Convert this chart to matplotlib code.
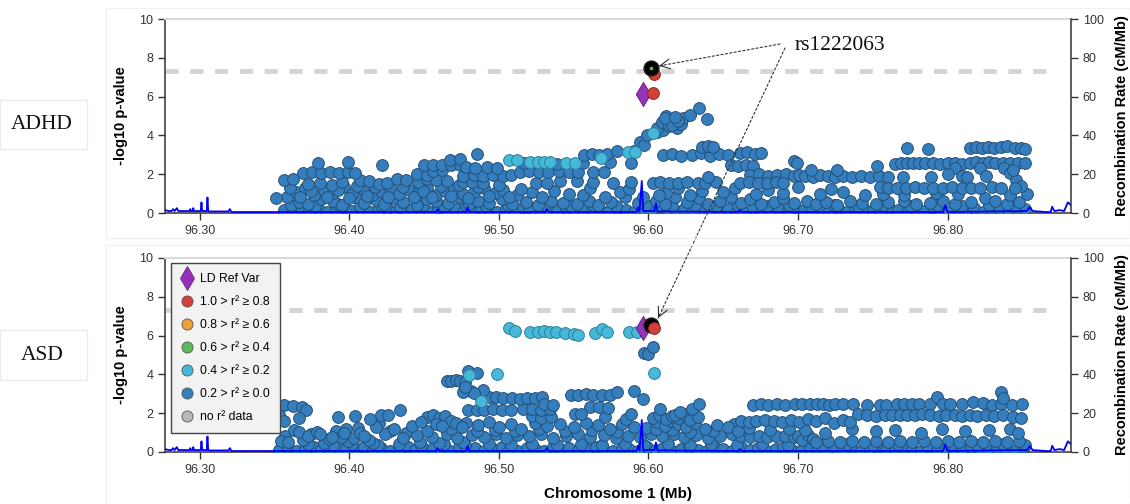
import numpy as np
import matplotlib
matplotlib.use('Agg')
import matplotlib.pyplot as plt
from matplotlib.lines import Line2D
from matplotlib.patches import Rectangle

plt.rcParams['font.family'] = ['Liberation Sans', 'DejaVu Sans']

# LD colour classes
c_ref = '#9632b8'
c_red = '#d43f3a'
c_orange = '#eea236'
c_green = '#5cb85c'
c_cyan = '#46b8da'
c_blue = '#357ebd'
c_gray = '#b8b8b8'

xticks = [96.30, 96.40, 96.50, 96.60, 96.70, 96.80]
xlim = (96.2766, 96.8826)
sig_line = 7.3

legend_labels = ['LD Ref Var', '1.0 > r\u00b2 \u2265 0.8', '0.8 > r\u00b2 \u2265 0.6',
                 '0.6 > r\u00b2 \u2265 0.4', '0.4 > r\u00b2 \u2265 0.2',
                 '0.2 > r\u00b2 \u2265 0.0', 'no r\u00b2 data']

snp_name = 'rs1222063'

# ---------------- ADHD ----------------
adhd_lead = (96.602, 7.50)
adhd_ref = (96.596, 6.13)
adhd_red = [(96.604, 7.17), (96.603, 6.19)]
adhd_cyan = [(96.507, 2.75), (96.512, 2.75), (96.521, 2.65), (96.526, 2.65), (96.530, 2.65),
             (96.534, 2.65), (96.545, 2.60), (96.551, 2.60), (96.568, 2.85), (96.586, 3.15),
             (96.591, 3.15), (96.603, 4.10)]
adhd_blue = [
    # bottom row
    (96.356, 0.15), (96.362, 0.05), (96.368, 0.20), (96.373, 0.10), (96.379, 0.25), (96.385, 0.05),
    (96.391, 0.15), (96.396, 0.30), (96.402, 0.10), (96.408, 0.20), (96.414, 0.05), (96.419, 0.15),
    (96.425, 0.25), (96.431, 0.10), (96.437, 0.05), (96.442, 0.20), (96.448, 0.15), (96.454, 0.05),
    (96.459, 0.30), (96.465, 0.10), (96.471, 0.20), (96.476, 0.05), (96.482, 0.15), (96.488, 0.25),
    (96.494, 0.10), (96.499, 0.05), (96.505, 0.20), (96.511, 0.10), (96.516, 0.30), (96.522, 0.15),
    (96.528, 0.05), (96.533, 0.20), (96.539, 0.10), (96.545, 0.25), (96.551, 0.05), (96.556, 0.15),
    (96.562, 0.20), (96.568, 0.10), (96.573, 0.05), (96.579, 0.25), (96.585, 0.15), (96.590, 0.05),
    (96.596, 0.20), (96.602, 0.10), (96.607, 0.30), (96.613, 0.15), (96.619, 0.05), (96.624, 0.20),
    (96.630, 0.10), (96.636, 0.25), (96.641, 0.05), (96.647, 0.15), (96.653, 0.20), (96.659, 0.10),
    (96.664, 0.05), (96.670, 0.25), (96.676, 0.15), (96.681, 0.05), (96.687, 0.20), (96.693, 0.10),
    (96.698, 0.30), (96.704, 0.15), (96.710, 0.05), (96.716, 0.20), (96.721, 0.10), (96.727, 0.25),
    (96.733, 0.05), (96.738, 0.15), (96.744, 0.20), (96.750, 0.10), (96.755, 0.05), (96.761, 0.25),
    (96.767, 0.15), (96.773, 0.05), (96.778, 0.20), (96.784, 0.10), (96.790, 0.30), (96.795, 0.15),
    (96.801, 0.05), (96.807, 0.20), (96.812, 0.10), (96.818, 0.25), (96.824, 0.05), (96.830, 0.15),
    (96.835, 0.20), (96.841, 0.10), (96.847, 0.05), (96.852, 0.20),
    # 0.3 - 0.45
    (96.361, 0.40), (96.377, 0.35), (96.392, 0.45), (96.407, 0.35), (96.421, 0.40), (96.434, 0.30),
    (96.449, 0.40), (96.463, 0.35), (96.478, 0.40), (96.491, 0.35), (96.506, 0.40), (96.520, 0.30),
    (96.531, 0.40), (96.548, 0.35), (96.563, 0.40), (96.578, 0.35), (96.598, 0.40), (96.616, 0.35),
    (96.631, 0.40), (96.645, 0.35), (96.660, 0.40), (96.679, 0.35), (96.694, 0.40), (96.709, 0.35),
    (96.724, 0.40), (96.740, 0.35), (96.757, 0.40), (96.775, 0.35), (96.793, 0.40), (96.810, 0.35),
    (96.828, 0.40), (96.845, 0.35),
    # 0.4 - 0.9
    (96.358, 0.80), (96.366, 0.55), (96.372, 0.45), (96.381, 0.70), (96.389, 0.60), (96.395, 0.40),
    (96.404, 0.85), (96.410, 0.50), (96.418, 0.65), (96.423, 0.45), (96.430, 0.75), (96.436, 0.55),
    (96.445, 0.40), (96.452, 0.70), (96.458, 0.60), (96.466, 0.50), (96.473, 0.80), (96.480, 0.45),
    (96.486, 0.60), (96.493, 0.50), (96.502, 0.70), (96.509, 0.45), (96.518, 0.55), (96.526, 0.40),
    (96.535, 0.60), (96.543, 0.50), (96.552, 0.45), (96.560, 0.60), (96.566, 0.40), (96.575, 0.55),
    (96.584, 0.80), (96.593, 0.50), (96.605, 0.60), (96.611, 0.45), (96.618, 0.80), (96.626, 0.55),
    (96.634, 0.75), (96.640, 0.45), (96.648, 0.60), (96.655, 0.80), (96.662, 0.50), (96.668, 0.70),
    (96.675, 0.45), (96.684, 0.55), (96.690, 0.75), (96.697, 0.50), (96.706, 0.60), (96.712, 0.45),
    (96.719, 0.55), (96.726, 0.40), (96.735, 0.60), (96.743, 0.50), (96.752, 0.45), (96.760, 0.55),
    (96.771, 0.60), (96.779, 0.45), (96.788, 0.50), (96.797, 0.60), (96.805, 0.45), (96.816, 0.55),
    (96.825, 0.75), (96.832, 0.60), (96.840, 0.45), (96.848, 0.55),
    # around 1.0
    (96.351, 0.75), (96.364, 1.10), (96.370, 1.30), (96.376, 0.95), (96.383, 1.20), (96.389, 1.05),
    (96.396, 1.35), (96.402, 1.00), (96.409, 1.25), (96.415, 0.95), (96.421, 1.15), (96.427, 1.30),
    (96.433, 1.00), (96.440, 1.20), (96.446, 1.05), (96.452, 1.30), (96.458, 0.95), (96.464, 1.15),
    (96.470, 1.25), (96.476, 1.00), (96.483, 1.10), (96.490, 1.30), (96.497, 1.05), (96.503, 1.20),
    (96.512, 0.95), (96.522, 1.10), (96.547, 1.00), (96.581, 1.10), (96.612, 1.05), (96.628, 0.95),
    (96.650, 1.10), (96.672, 1.00), (96.690, 1.05), (96.715, 1.00), (96.730, 1.10), (96.745, 0.95),
    (96.757, 1.00), (96.771, 0.95), (96.792, 1.05), (96.807, 1.00), (96.842, 0.95), (96.853, 1.00),
    (96.360, 1.30), (96.367, 0.85), (96.374, 1.15), (96.385, 0.85), (96.392, 1.20), (96.400, 0.75),
    (96.405, 1.40), (96.412, 0.90), (96.417, 1.35), (96.426, 0.85), (96.436, 1.35), (96.443, 0.80),
    (96.449, 1.15), (96.455, 0.85), (96.461, 1.40), (96.468, 0.90), (96.473, 1.45), (96.479, 0.75),
    (96.486, 1.35), (96.493, 0.90), (96.500, 1.45), (96.507, 0.85), (96.515, 1.25), (96.529, 0.85),
    (96.537, 1.15), (96.556, 0.95), (96.561, 1.30), (96.571, 0.85), (96.587, 1.25), (96.596, 0.80),
    (96.607, 0.95), (96.620, 1.30), (96.636, 1.15), (96.658, 1.30), (96.680, 1.20), (96.700, 1.35),
    (96.722, 1.25),
    # 1.5 - 1.8
    (96.356, 1.70), (96.362, 1.75), (96.372, 1.50), (96.380, 1.55), (96.388, 1.45), (96.395, 1.60),
    (96.407, 1.70), (96.413, 1.65), (96.420, 1.50), (96.425, 1.55), (96.432, 1.75), (96.438, 1.70),
    (96.446, 1.60), (96.452, 1.75), (96.458, 1.70), (96.465, 1.65), (96.476, 1.60), (96.482, 1.60),
    (96.489, 1.55), (96.525, 1.55), (96.532, 1.55), (96.541, 1.65), (96.552, 1.65), (96.563, 1.60),
    (96.576, 1.55), (96.588, 1.60),
    # around 2.0
    (96.369, 2.05), (96.375, 2.10), (96.381, 2.05), (96.387, 2.10), (96.393, 2.05), (96.399, 2.10),
    (96.404, 2.05), (96.445, 2.00), (96.452, 1.95), (96.456, 2.15), (96.462, 2.20), (96.476, 1.90),
    (96.483, 1.95), (96.489, 1.90), (96.496, 1.95), (96.503, 1.90), (96.508, 1.95), (96.514, 2.10),
    (96.520, 2.15), (96.527, 2.10), (96.533, 2.10), (96.540, 2.15), (96.547, 2.10), (96.553, 2.10),
    (96.563, 2.10), (96.570, 2.10),
    # 2.3 - 3.2, left half
    (96.379, 2.60), (96.399, 2.65), (96.422, 2.50), (96.450, 2.45), (96.456, 2.50), (96.462, 2.45),
    (96.468, 2.50), (96.474, 2.45), (96.467, 2.75), (96.474, 2.80), (96.478, 2.35), (96.484, 2.30),
    (96.492, 2.35), (96.499, 2.30), (96.485, 3.05), (96.517, 2.60), (96.539, 2.55), (96.556, 2.60),
    (96.574, 2.65), (96.588, 2.60), (96.557, 3.00), (96.562, 3.05), (96.567, 3.00), (96.572, 3.05),
    (96.579, 3.20),
    # rise towards the top hit
    (96.590, 3.20), (96.594, 3.65), (96.597, 3.50), (96.599, 4.00), (96.606, 4.20), (96.610, 4.30),
    (96.606, 4.40), (96.609, 4.70), (96.612, 5.00), (96.614, 4.50), (96.617, 4.80), (96.619, 4.40),
    (96.622, 4.60), (96.623, 4.90), (96.616, 4.55), (96.620, 4.75), (96.611, 4.90), (96.618, 4.95),
    (96.628, 5.05), (96.634, 5.40), (96.639, 4.85),
    # 96.60 - 96.70 bands
    (96.610, 3.00), (96.616, 3.05), (96.622, 2.95), (96.629, 3.00), (96.635, 3.10), (96.641, 2.95),
    (96.647, 3.05), (96.653, 3.00), (96.636, 3.40), (96.640, 3.45), (96.643, 3.40), (96.661, 3.10),
    (96.666, 3.15), (96.671, 3.05), (96.675, 3.10), (96.655, 2.45), (96.660, 2.40), (96.665, 2.50),
    (96.670, 2.40), (96.668, 1.95), (96.674, 2.00), (96.680, 1.90), (96.686, 1.95), (96.692, 2.00),
    (96.697, 1.90), (96.701, 1.95), (96.705, 1.90), (96.710, 1.85), (96.715, 1.95), (96.720, 1.90),
    (96.725, 1.85), (96.730, 1.90), (96.736, 1.85), (96.742, 1.90), (96.748, 1.85), (96.754, 1.90),
    (96.760, 1.85), (96.603, 1.55), (96.608, 1.60), (96.614, 1.55), (96.620, 1.55), (96.626, 1.60),
    (96.633, 1.55), (96.638, 1.55), (96.645, 1.60), (96.661, 1.55), (96.667, 1.60), (96.673, 1.55),
    (96.679, 1.55), (96.685, 1.60), (96.690, 1.55), (96.697, 2.70), (96.640, 1.85), (96.699, 2.60),
    (96.709, 2.20), (96.726, 2.20), (96.753, 2.40),
    # right block
    (96.773, 3.35), (96.787, 3.30), (96.815, 3.35), (96.819, 3.40), (96.823, 3.35), (96.827, 3.40),
    (96.831, 3.35), (96.836, 3.40), (96.840, 3.45), (96.845, 3.35), (96.849, 3.35), (96.852, 3.30),
    (96.765, 2.55), (96.769, 2.60), (96.773, 2.60), (96.777, 2.60), (96.781, 2.60), (96.785, 2.60),
    (96.790, 2.60), (96.795, 2.55), (96.800, 2.60), (96.805, 2.60), (96.810, 2.55), (96.815, 2.60),
    (96.819, 2.65), (96.824, 2.60), (96.828, 2.65), (96.832, 2.60), (96.837, 2.60), (96.842, 2.60),
    (96.847, 2.60), (96.852, 2.60), (96.838, 2.30), (96.842, 2.05), (96.846, 1.70), (96.849, 1.40),
    (96.844, 2.20), (96.805, 2.30), (96.822, 2.30), (96.770, 1.85), (96.789, 1.85), (96.800, 2.00),
    (96.810, 1.90), (96.813, 1.85), (96.826, 1.90), (96.755, 1.35), (96.760, 1.30), (96.766, 1.30),
    (96.772, 1.30), (96.778, 1.35), (96.784, 1.30), (96.790, 1.30), (96.797, 1.30), (96.803, 1.35),
    (96.810, 1.30), (96.816, 1.30), (96.822, 1.30), (96.830, 1.35), (96.836, 1.30), (96.845, 1.30),
]

# ---------------- ASD ----------------
asd_lead = (96.602, 6.55)
asd_ref = (96.596, 6.40)
asd_red = [(96.604, 6.40)]
asd_cyan = [(96.507, 6.40), (96.511, 6.25), (96.521, 6.20), (96.526, 6.20), (96.530, 6.25),
            (96.534, 6.20), (96.538, 6.20), (96.544, 6.15), (96.550, 6.10), (96.553, 6.05),
            (96.564, 6.15), (96.569, 6.35), (96.572, 6.20), (96.587, 6.20), (96.592, 6.20),
            (96.604, 4.05), (96.499, 4.00), (96.480, 3.95), (96.488, 2.65)]
asd_blue = [
    # bottom row
    (96.353, 0.10), (96.359, 0.20), (96.364, 0.05), (96.370, 0.15), (96.376, 0.25), (96.381, 0.10),
    (96.387, 0.05), (96.393, 0.20), (96.398, 0.15), (96.404, 0.05), (96.410, 0.25), (96.416, 0.10),
    (96.421, 0.20), (96.427, 0.05), (96.433, 0.15), (96.439, 0.25), (96.444, 0.10), (96.450, 0.05),
    (96.456, 0.20), (96.461, 0.15), (96.467, 0.05), (96.473, 0.25), (96.479, 0.10), (96.484, 0.20),
    (96.490, 0.05), (96.496, 0.15), (96.502, 0.25), (96.507, 0.10), (96.513, 0.05), (96.519, 0.20),
    (96.524, 0.15), (96.530, 0.05), (96.536, 0.25), (96.542, 0.10), (96.547, 0.20), (96.553, 0.05),
    (96.559, 0.15), (96.565, 0.25), (96.570, 0.10), (96.576, 0.05), (96.582, 0.20), (96.587, 0.15),
    (96.593, 0.05), (96.599, 0.25), (96.605, 0.10), (96.610, 0.20), (96.616, 0.05), (96.622, 0.15),
    (96.627, 0.25), (96.633, 0.10), (96.639, 0.05), (96.645, 0.20), (96.650, 0.15), (96.656, 0.05),
    (96.662, 0.25), (96.668, 0.10), (96.673, 0.20), (96.679, 0.05), (96.685, 0.15), (96.690, 0.25),
    (96.696, 0.10), (96.702, 0.05), (96.708, 0.20), (96.713, 0.15), (96.719, 0.05), (96.725, 0.25),
    (96.730, 0.10), (96.736, 0.20), (96.742, 0.05), (96.748, 0.15), (96.753, 0.25), (96.759, 0.10),
    (96.765, 0.05), (96.770, 0.20), (96.776, 0.15), (96.782, 0.05), (96.788, 0.25), (96.793, 0.10),
    (96.799, 0.20), (96.805, 0.05), (96.810, 0.15), (96.816, 0.25), (96.822, 0.10), (96.828, 0.05),
    (96.833, 0.20), (96.839, 0.15), (96.845, 0.05), (96.851, 0.25),
    (96.358, 0.35), (96.372, 0.40), (96.389, 0.35), (96.402, 0.40), (96.419, 0.35), (96.433, 0.40),
    (96.448, 0.35), (96.463, 0.40), (96.477, 0.35), (96.493, 0.40), (96.508, 0.35), (96.522, 0.40),
    (96.539, 0.35), (96.555, 0.40), (96.569, 0.35), (96.584, 0.40), (96.597, 0.35), (96.613, 0.40),
    (96.628, 0.35), (96.642, 0.40), (96.659, 0.35), (96.676, 0.40), (96.693, 0.35), (96.716, 0.35),
    (96.733, 0.40), (96.750, 0.35), (96.767, 0.40), (96.786, 0.35), (96.803, 0.40), (96.820, 0.35),
    (96.837, 0.40), (96.852, 0.35),
    # 0.3 - 1.2
    (96.357, 0.85), (96.363, 1.15), (96.369, 0.60), (96.374, 0.95), (96.383, 0.45), (96.391, 1.10),
    (96.399, 0.55), (96.406, 1.25), (96.416, 0.45), (96.427, 1.10), (96.438, 1.00), (96.447, 0.50),
    (96.460, 0.45), (96.476, 0.50), (96.354, 0.55), (96.359, 0.50), (96.366, 1.05), (96.372, 0.80),
    (96.378, 1.05), (96.386, 0.65), (96.394, 0.75), (96.398, 1.20), (96.403, 0.70), (96.407, 1.00),
    (96.413, 0.60), (96.380, 0.95), (96.388, 0.75), (96.396, 1.00), (96.410, 0.85), (96.424, 0.95),
    (96.436, 0.70), (96.445, 0.90), (96.455, 0.75), (96.465, 0.95), (96.472, 0.70), (96.482, 0.90),
    (96.490, 0.75), (96.498, 0.95), (96.505, 0.70), (96.512, 0.90), (96.520, 0.80), (96.528, 0.95),
    (96.536, 0.70), (96.545, 0.85), (96.553, 0.95), (96.561, 0.75), (96.570, 0.90), (96.578, 0.70),
    (96.586, 0.85), (96.594, 0.75), (96.602, 0.95), (96.609, 0.80), (96.617, 0.95), (96.624, 0.75),
    (96.632, 0.90), (96.640, 0.70), (96.648, 0.85), (96.656, 0.95), (96.662, 0.80), (96.668, 0.75),
    (96.674, 0.80), (96.679, 0.75), (96.685, 0.80), (96.691, 0.80), (96.697, 0.75), (96.705, 0.70),
    (96.700, 0.85), (96.703, 0.60), (96.707, 0.90), (96.710, 0.65), (96.712, 0.50), (96.720, 0.55),
    (96.728, 0.50), (96.736, 0.55), (96.744, 0.50), (96.752, 0.55), (96.760, 0.50), (96.768, 0.55),
    (96.776, 0.50), (96.784, 0.55), (96.792, 0.50), (96.800, 0.55), (96.808, 0.50), (96.816, 0.55),
    (96.824, 0.50), (96.832, 0.55), (96.840, 0.50), (96.848, 0.55), (96.705, 1.15), (96.718, 1.00),
    (96.736, 1.20), (96.752, 1.10), (96.765, 1.15), (96.782, 1.00), (96.796, 1.20), (96.812, 1.10),
    (96.828, 1.15), (96.842, 1.20), (96.847, 1.00),
    (96.452, 1.10), (96.468, 1.20), (96.485, 1.10), (96.497, 1.15), (96.511, 1.10), (96.527, 1.20),
    (96.544, 1.10), (96.562, 1.15), (96.579, 1.05), (96.598, 1.25), (96.605, 1.20), (96.616, 1.15),
    (96.628, 1.05), (96.643, 1.10), (96.657, 1.45), (96.667, 1.25), (96.681, 1.15), (96.694, 1.20),
    # 1.2 - 2.0
    (96.420, 1.50), (96.418, 1.30), (96.430, 1.20), (96.442, 1.35), (96.478, 1.50), (96.486, 1.40),
    (96.493, 1.55), (96.500, 1.30), (96.508, 1.45), (96.515, 1.20), (96.524, 1.50), (96.532, 1.35),
    (96.541, 1.45), (96.550, 1.30), (96.558, 1.50), (96.566, 1.40), (96.574, 1.20), (96.582, 1.45),
    (96.590, 1.30), (96.606, 1.55), (96.611, 1.35), (96.615, 1.60), (96.620, 1.45), (96.625, 1.30),
    (96.631, 1.50), (96.638, 1.20), (96.646, 1.40), (96.653, 1.30), (96.660, 1.10), (96.603, 1.75),
    (96.607, 1.90), (96.612, 1.70), (96.616, 1.85), (96.620, 1.75), (96.624, 1.95), (96.628, 1.65),
    (96.633, 1.80), (96.522, 1.85), (96.528, 1.75), (96.535, 1.80), (96.571, 1.80), (96.585, 1.70),
    (96.452, 1.80), (96.456, 1.90), (96.460, 1.75), (96.464, 1.85), (96.468, 1.60), (96.471, 1.50),
    (96.458, 1.45), (96.462, 1.35), (96.475, 1.30), (96.448, 1.55), (96.662, 1.60), (96.667, 1.55),
    (96.672, 1.60), (96.678, 1.65), (96.684, 1.60), (96.689, 1.55), (96.695, 1.65), (96.701, 1.55),
    (96.707, 1.70), (96.712, 1.60), (96.718, 1.75), (96.724, 1.50), (96.730, 1.65), (96.735, 1.55),
    # left edge, up to 2.4
    (96.356, 2.40), (96.362, 2.35), (96.368, 2.30), (96.371, 2.15), (96.353, 1.90), (96.356, 1.60),
    (96.366, 1.75), (96.392, 1.80), (96.404, 1.85), (96.414, 1.70), (96.421, 1.90), (96.426, 1.90),
    (96.434, 2.15),
    # 2.0 - 3.2 middle
    (96.479, 2.15), (96.485, 2.15), (96.490, 2.15), (96.496, 2.20), (96.502, 2.15), (96.508, 2.15),
    (96.516, 2.20), (96.522, 2.20), (96.528, 2.15), (96.534, 2.20), (96.561, 2.30), (96.567, 2.30),
    (96.573, 2.25), (96.551, 1.95), (96.555, 1.95), (96.588, 1.95), (96.608, 2.20), (96.618, 1.90),
    (96.621, 2.05), (96.629, 2.20), (96.634, 2.45), (96.493, 2.85), (96.498, 2.85), (96.503, 2.80),
    (96.509, 2.80), (96.514, 2.75), (96.519, 2.80), (96.524, 2.80), (96.529, 2.85), (96.530, 2.45),
    (96.536, 2.40), (96.548, 2.95), (96.553, 2.95), (96.558, 3.00), (96.563, 2.95), (96.569, 2.95),
    (96.574, 2.95), (96.579, 3.10), (96.590, 3.15), (96.596, 2.75),
    # shoulder near 96.47
    (96.465, 3.65), (96.468, 3.65), (96.471, 3.70), (96.474, 3.65), (96.477, 3.60), (96.479, 4.15),
    (96.485, 4.05), (96.481, 3.15), (96.489, 3.20), (96.476, 3.10), (96.483, 3.05), (96.477, 3.35),
    # near the top hit
    (96.597, 5.10), (96.600, 5.05), (96.603, 5.40),
    # right side
    (96.670, 2.40), (96.675, 2.45), (96.680, 2.40), (96.686, 2.45), (96.691, 2.40), (96.698, 2.45),
    (96.703, 2.50), (96.708, 2.45), (96.713, 2.50), (96.717, 2.45), (96.721, 2.40), (96.725, 2.45),
    (96.730, 2.45), (96.737, 2.45), (96.746, 2.40), (96.755, 2.40), (96.759, 2.40), (96.766, 2.50),
    (96.771, 2.50), (96.776, 2.50), (96.781, 2.50), (96.788, 2.50), (96.793, 2.85), (96.797, 2.50),
    (96.802, 2.50), (96.810, 2.50), (96.817, 2.60), (96.824, 2.55), (96.830, 2.40), (96.836, 2.45),
    (96.836, 3.10), (96.837, 2.80), (96.843, 2.40), (96.850, 2.50), (96.740, 1.95), (96.746, 1.90),
    (96.752, 1.85), (96.758, 1.90), (96.763, 1.90), (96.768, 1.90), (96.773, 1.90), (96.778, 1.90),
    (96.783, 1.95), (96.788, 1.90), (96.794, 1.85), (96.799, 1.90), (96.805, 1.90), (96.810, 1.85),
    (96.815, 1.90), (96.820, 1.85), (96.826, 1.90), (96.831, 1.85), (96.837, 1.90), (96.844, 1.80),
    (96.849, 1.75),
]

# recombination rate (cM/Mb), shared by both panels
recomb_pos = [96.2766, 96.279, 96.281, 96.282, 96.283, 96.2845, 96.2855, 96.288, 96.293, 96.2935,
              96.294, 96.295, 96.2955, 96.296, 96.3005, 96.301, 96.3015, 96.302, 96.3045, 96.305,
              96.3055, 96.306, 96.319, 96.320, 96.321, 96.340, 96.400, 96.458, 96.459, 96.460,
              96.478, 96.479, 96.480, 96.531, 96.532, 96.533, 96.592, 96.593, 96.594, 96.5955,
              96.5965, 96.598, 96.604, 96.605, 96.606, 96.660, 96.661, 96.662, 96.797, 96.7985,
              96.800, 96.853, 96.855, 96.857, 96.866, 96.869, 96.870, 96.8715, 96.875, 96.878,
              96.8805, 96.8826]
recomb_rate = [1.5, 1.0, 1.0, 2.0, 1.0, 2.5, 1.0, 1.0, 1.0, 2.0,
               1.0, 1.0, 2.5, 1.0, 1.0, 5.5, 1.0, 1.0, 1.0, 8.0,
               1.0, 0.8, 0.8, 2.0, 0.5, 0.5, 0.5, 0.5, 2.0, 0.5,
               0.5, 3.0, 0.5, 0.5, 2.0, 0.5, 0.5, 3.0, 0.8, 16.5,
               1.0, 1.0, 1.0, 5.0, 0.8, 0.5, 1.5, 0.5, 0.5, 4.0,
               0.5, 1.0, 3.0, 1.0, 0.5, 0.5, 3.2, 1.0, 1.5, 1.0,
               5.5, 4.0]

W, H = 1130, 504
fig = plt.figure(figsize=(W / 100, H / 100), dpi=100)


def fx(px):
    return px / W


def fy(py):
    return 1 - py / H


def panel(ax, blue, cyan, red, ref, lead, red_on_top):
    ax.set_xlim(*xlim)
    ax.set_ylim(0, 10)
    ax.axhline(sig_line, xmin=0, xmax=0.985, color='#d4d4d4', lw=3.5,
               dashes=(2.7, 2.4), zorder=1)
    bx, by = zip(*blue)
    ax.scatter(bx, by, s=72, c=c_blue, edgecolors='#244f76', linewidths=0.7, zorder=3)
    cx, cy = zip(*cyan)
    ax.scatter(cx, cy, s=72, c=c_cyan, edgecolors='#2f7f99', linewidths=0.7, zorder=4)
    ax.scatter([ref[0]], [ref[1]], s=150, marker='d', c=c_ref, edgecolors='#6a1f85',
               linewidths=0.7, zorder=5)
    rx, ry = zip(*red)
    ax.scatter([lead[0]], [lead[1]], s=115, c='black', edgecolors='#222222', zorder=6)
    ax.scatter([lead[0]], [lead[1]], s=7, c=c_green, linewidths=0, zorder=6)
    ax.scatter(rx, ry, s=72, c=c_red, edgecolors='#8e2522', linewidths=0.7,
               zorder=7 if red_on_top else 5)

    ax.set_xticks(xticks)
    ax.set_xticklabels(['%.2f' % t for t in xticks])
    ax.set_yticks(range(0, 11, 2))
    ax.tick_params(direction='out', length=5, width=1, colors='#333333',
                   labelsize=9, labelcolor='#333333')
    ax.set_ylabel('-log10 p-value', fontsize=10.5, fontweight='bold', labelpad=8)
    for side in ['left', 'bottom']:
        ax.spines[side].set_color('#333333')
        ax.spines[side].set_linewidth(1.1)
    ax.spines['top'].set_color('#d9d9d9')
    ax.spines['top'].set_linewidth(1.5)
    ax.spines['right'].set_visible(False)

    ar = ax.twinx()
    ar.set_ylim(0, 100)
    ar.set_yticks(range(0, 101, 20))
    ar.plot(recomb_pos, recomb_rate, color='#0000ff', lw=1.3, zorder=2)
    ar.tick_params(direction='out', length=5, width=1, colors='#333333',
                   labelsize=9, labelcolor='#333333')
    ar.set_ylabel('Recombination Rate (cM/Mb)', fontsize=10.5, fontweight='bold', labelpad=8)
    for side in ['left', 'bottom', 'top']:
        ar.spines[side].set_visible(False)
    ar.spines['right'].set_color('#333333')
    ar.spines['right'].set_linewidth(1.1)
    return ar


ax1 = fig.add_axes([fx(165), fy(213), fx(1071 - 165), 194 / H])
ax2 = fig.add_axes([fx(165), fy(452), fx(1071 - 165), 194 / H])
ar1 = panel(ax1, adhd_blue, adhd_cyan, adhd_red, adhd_ref, adhd_lead, False)
ar2 = panel(ax2, asd_blue, asd_cyan, asd_red, asd_ref, asd_lead, True)
ax2.set_xlabel('Chromosome 1 (Mb)', fontsize=11, fontweight='bold', labelpad=8)

# faint frames around each panel and the trait labels
for (x0, y0, x1, y1) in [(106, 8, 1130, 238), (106, 245, 1130, 504)]:
    fig.patches.append(Rectangle((fx(x0), fy(y1)), fx(x1 - x0), (y1 - y0) / H,
                                 transform=fig.transFigure, fill=False,
                                 edgecolor='#f0f0f0', lw=1))
for name, (y0, y1) in [('ADHD', (100, 149)), ('ASD', (330, 380))]:
    fig.patches.append(Rectangle((fx(0), fy(y1)), fx(87), (y1 - y0) / H,
                                 transform=fig.transFigure, fill=False,
                                 edgecolor='#ececec', lw=1))
    fig.text(fx(42), fy((y0 + y1) / 2), name, family='Liberation Serif', fontsize=15.5,
             ha='center', va='center', color='#111111')

# legend
handles = [Line2D([], [], ls='', marker='d', markersize=12, markerfacecolor=c_ref,
                  markeredgecolor='#6a1f85', markeredgewidth=0.6)]
for col in [c_red, c_orange, c_green, c_cyan, c_blue, c_gray]:
    handles.append(Line2D([], [], ls='', marker='o', markersize=8, markerfacecolor=col,
                          markeredgecolor='#555555', markeredgewidth=0.6))
leg = ar2.legend(handles, legend_labels, loc='upper left', bbox_to_anchor=(0.0066, 0.974),
                 borderaxespad=0, fontsize=8.8, frameon=True, fancybox=False,
                 handlelength=1.0, handletextpad=0.6, labelspacing=0.9,
                 borderpad=0.8, framealpha=1)
leg.get_frame().set_facecolor('#f2f2f2')
leg.get_frame().set_edgecolor('#444444')
leg.get_frame().set_linewidth(1.0)

# SNP callout with dotted pointers
fig.text(fx(795), fy(45), snp_name, family='Liberation Serif', fontsize=15.5,
         ha='left', va='center', color='#111111')


def pointer(ax, tail_px, tip):
    tip_disp = ax.transData.transform(tip)
    tail_disp = np.array([tail_px[0], H - tail_px[1]])
    d = tail_disp - tip_disp
    d = d / np.hypot(*d)
    ax.annotate('', xy=tip, xycoords='data', xytext=tuple(tail_disp),
                textcoords='figure pixels', annotation_clip=False,
                arrowprops=dict(arrowstyle='-', color='#333333', lw=0.8,
                                linestyle=(0, (2, 2)), shrinkA=0, shrinkB=0))
    ax.annotate('', xy=tip, xycoords='data', xytext=tuple(tip_disp + d * 4),
                textcoords='figure pixels', annotation_clip=False,
                arrowprops=dict(arrowstyle='->,head_length=0.7,head_width=0.35',
                                color='#333333', lw=0.8, shrinkA=0, shrinkB=0))


# tips given on the recombination axes (x in Mb, y in cM/Mb)
pointer(ar2, (785, 48), (96.6064, 69.0))
pointer(ar1, (780, 44), (96.607, 75.8))

fig.savefig('out.png', dpi=100)
